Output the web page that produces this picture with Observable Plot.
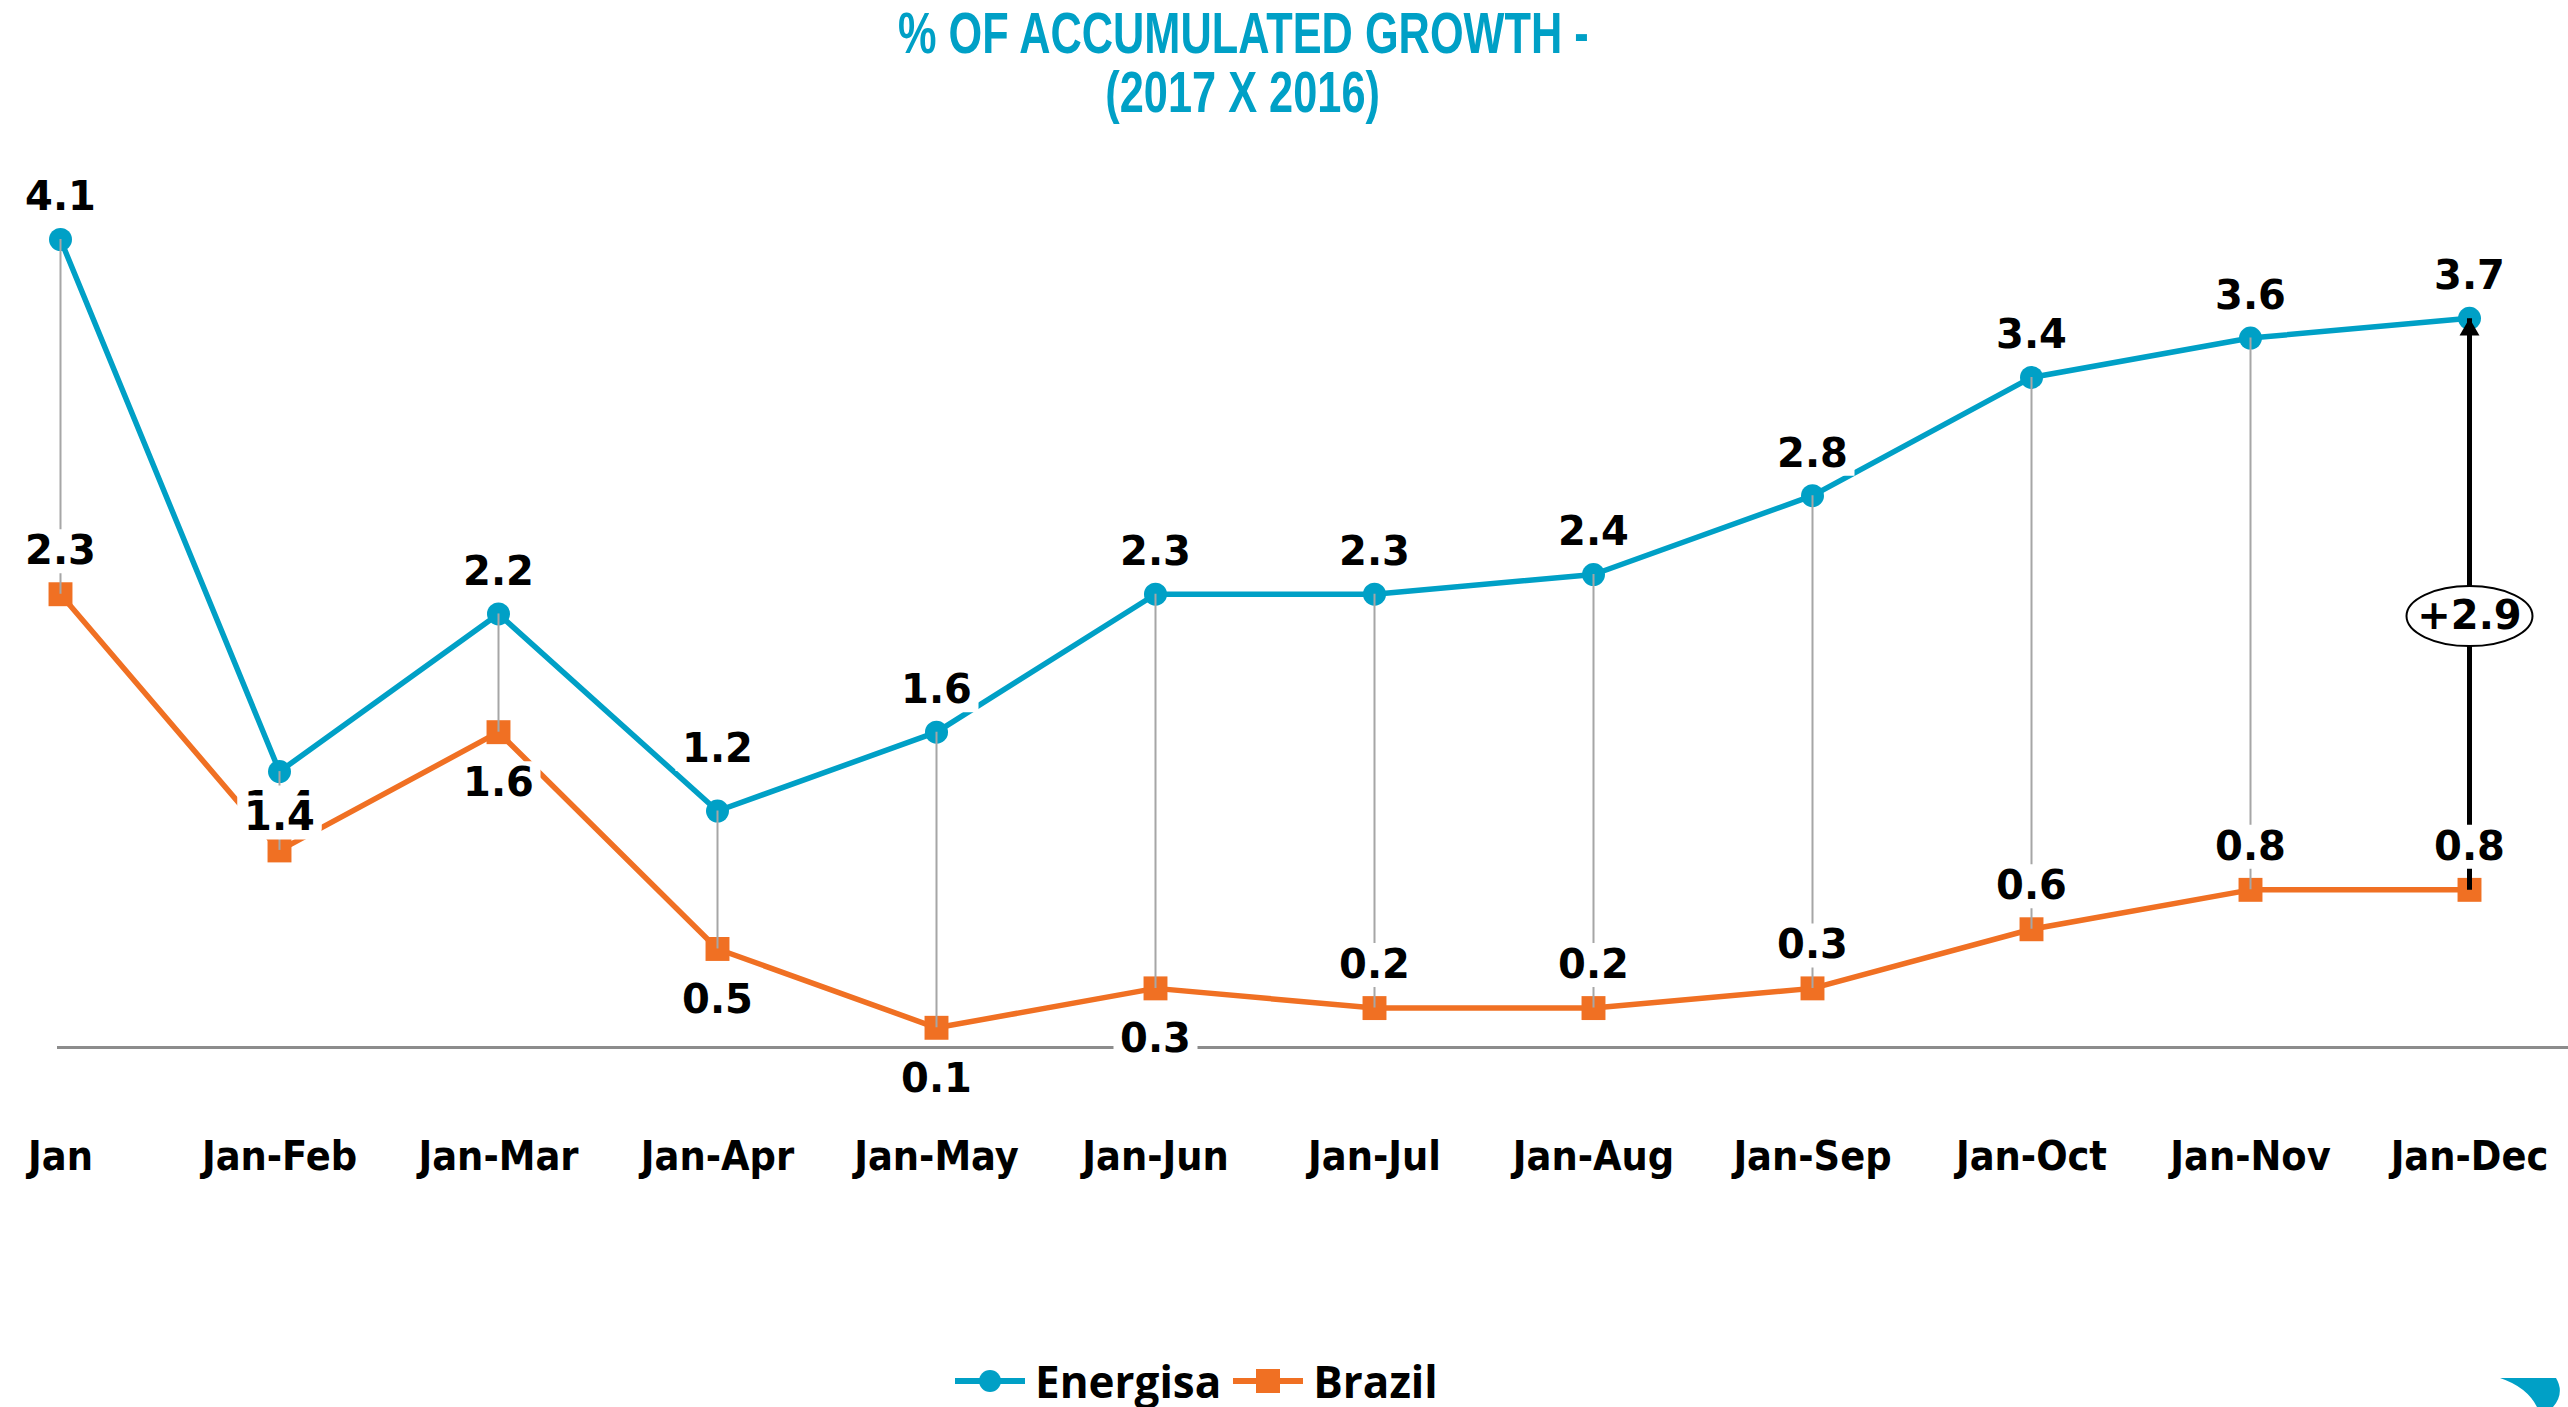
<!DOCTYPE html>
<html><head><meta charset="utf-8">
<script src="https://cdn.jsdelivr.net/npm/d3@7"></script>
<script src="https://cdn.jsdelivr.net/npm/@observablehq/plot@0.6"></script>
<style>
html,body{margin:0;padding:0;background:#fff;width:2568px;height:1407px;overflow:hidden;}
body{position:relative;}
#title{width:2486px;height:130px;text-align:center;font-family:"Liberation Sans",Arial,sans-serif;font-weight:bold;font-size:57px;line-height:59px;color:#00A0C6;padding-top:4px;box-sizing:border-box;}
#title div{display:inline-block;transform:scaleX(0.76);transform-origin:center;white-space:nowrap;}
#chart svg{display:block;}
#legend{position:absolute;left:955px;top:1356px;height:50px;display:flex;align-items:center;font-family:"Open Sans",sans-serif;font-weight:bold;font-size:44px;color:#000;}
#legend span{margin-left:10px;margin-right:12px;}
#logo{position:absolute;left:0;top:0;}
</style></head>
<body>
<div id="title"><div>% OF ACCUMULATED GROWTH -</div><br><div>(2017 X 2016)</div></div>
<div id="chart"></div>
<div id="legend"></div>
<svg id="logo" width="2568" height="1407"><path d="M2500,1378 L2556,1378 Q2565,1393 2553,1407 L2537,1407 Q2527,1387 2500,1378 Z" fill="#00A0C6"/></svg>
<script>
const categories = ["Jan","Jan-Feb","Jan-Mar","Jan-Apr","Jan-May","Jan-Jun","Jan-Jul","Jan-Aug","Jan-Sep","Jan-Oct","Jan-Nov","Jan-Dec"];
const energisa = [4.1,1.4,2.2,1.2,1.6,2.3,2.3,2.4,2.8,3.4,3.6,3.7];
const brazil = [2.3,1.0,1.6,0.5,0.1,0.3,0.2,0.2,0.3,0.6,0.8,0.8];
const brazilLabels = ["2.3","1.4","1.6","0.5","0.1","0.3","0.2","0.2","0.3","0.6","0.8","0.8"];
const seriesNames = ["Energisa","Brazil"];

const BLUE = "#00A0C6", ORANGE = "#F07023";
const fmt = d3.format(".1f");
const rows = categories.map((c,i)=>({cat:c, e:energisa[i], b:brazil[i], el:fmt(energisa[i]), bl:brazilLabels[i]}));
const last = rows.slice(-1);

const box = (w,h)=>({draw(ctx){ctx.rect(-w/2,-h/2,w,h);}});
const ellipse = (rx,ry)=>({draw(ctx){const k=0.5523;ctx.moveTo(rx,0);ctx.bezierCurveTo(rx,ry*k,rx*k,ry,0,ry);ctx.bezierCurveTo(-rx*k,ry,-rx,ry*k,-rx,0);ctx.bezierCurveTo(-rx,-ry*k,-rx*k,-ry,0,-ry);ctx.bezierCurveTo(rx*k,-ry,rx,-ry*k,rx,0);ctx.closePath();}});

const labelFont = {fontFamily:"DejaVu Sans", fontWeight:"bold", fontSize:40, fill:"black"};
function labels(data, yKey, textKey, dy){
  return [
    Plot.dot(data, {x:"cat", y:yKey, symbol:box(84,44), fill:"white", stroke:"none", dy}),
    Plot.text(data, {x:"cat", y:yKey, text:textKey, dy, ...labelFont})
  ];
}
const eBelow = new Set(["Jan-Feb"]);
const eHigh = new Set(["Jan-Apr"]);
const bBelow = new Set(["Jan-Mar","Jan-Apr","Jan-May","Jan-Jun"]);
const bNear = new Set(["Jan-Feb"]);

const plot = Plot.plot({
  width:2568, height:1200,
  marginLeft:57, marginRight:0, marginTop:109, marginBottom:283,
  x:{type:"point", domain:categories, range:[57,2472], padding:0},
  y:{domain:[0,4.1], range:[917,109], axis:null},
  style:{background:"white", overflow:"visible"},
  marks:[
    Plot.ruleY([0], {stroke:"#8c8c8c", strokeWidth:3}),
    Plot.line(rows, {x:"cat", y:"e", stroke:BLUE, strokeWidth:5.5}),
    Plot.line(rows, {x:"cat", y:"b", stroke:ORANGE, strokeWidth:5.5}),
    Plot.dot(rows, {x:"cat", y:"e", r:11.5, fill:BLUE, stroke:"none"}),
    Plot.dot(rows, {x:"cat", y:"b", symbol:"square", r:13.5, fill:ORANGE, stroke:"none"}),
    Plot.ruleX(rows.slice(0,-1), {x:"cat", y1:"e", y2:"b", stroke:"#a6a6a6", strokeWidth:2}),
    Plot.link(last, {x1:"cat", x2:"cat", y1:"b", y2:"e", stroke:"black", strokeWidth:5}),
    Plot.dot(last, {x:"cat", y:"e", symbol:"triangle", r:7.4, fill:"black", stroke:"none", dy:11.5}),
    ...labels(rows.filter(d=>!eBelow.has(d.cat)&&!eHigh.has(d.cat)), "e", "el", -42),
    ...labels(rows.filter(d=>eHigh.has(d.cat)), "e", "el", -62),
    ...labels(rows.filter(d=>eBelow.has(d.cat)), "e", "el", 36),
    ...labels(rows.filter(d=>!bBelow.has(d.cat)&&!bNear.has(d.cat)), "b", "bl", -43),
    ...labels(rows.filter(d=>bBelow.has(d.cat)), "b", "bl", 51),
    ...labels(rows.filter(d=>bNear.has(d.cat)), "b", "bl", -33),
    Plot.dot(last, {x:"cat", y:d=>(d.e+d.b)/2, symbol:ellipse(63,30), fill:"white", stroke:"black", strokeWidth:2, dy:12}),
    Plot.text(last, {x:"cat", y:d=>(d.e+d.b)/2, text:d=>"+"+fmt(d.e-d.b), dy:12, ...labelFont}),
    Plot.axisX({anchor:"bottom", tickSize:0, tickPadding:93, fontFamily:"DejaVu Sans Condensed", fontWeight:"bold", fontSize:41, fill:"black", label:null})
  ]
});
document.getElementById("chart").appendChild(plot);

// legend
const leg = document.getElementById("legend");
const swatch = (color, square) => {
  const s = d3.create("svg").attr("width",70).attr("height",30);
  s.append("line").attr("x1",0).attr("x2",70).attr("y1",15).attr("y2",15).attr("stroke",color).attr("stroke-width",6);
  if (square) s.append("rect").attr("x",23).attr("y",3).attr("width",24).attr("height",24).attr("fill",color);
  else s.append("circle").attr("cx",35).attr("cy",15).attr("r",11).attr("fill",color);
  return s.node();
};
seriesNames.forEach((n,i)=>{
  leg.appendChild(swatch(i===0?BLUE:ORANGE, i===1));
  const sp = document.createElement("span"); sp.textContent = n; leg.appendChild(sp);
});
</script>
</body></html>
